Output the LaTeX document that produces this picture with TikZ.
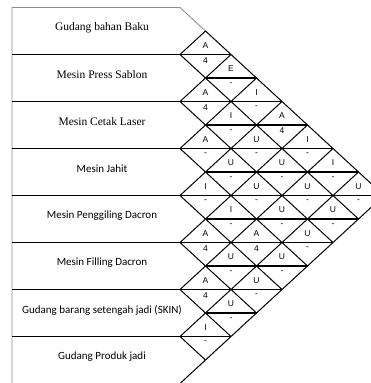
\documentclass[tikz,border=0pt]{standalone}
\usepackage{fontspec}
\setmainfont{Liberation Serif}
\newfontfamily\calibri{Carlito}
\newfontfamily\arial{Liberation Sans}
\begin{document}
\begin{tikzpicture}[x=1pt,y=-1pt,
    frameline/.style={draw=black!45, line width=0.8pt},
    rowline/.style={line width=1.6pt},
    gridline/.style={line width=1pt},
    midline/.style={line width=1.6pt},
    rel/.style={font=\arial\fontsize{8.5}{9}\selectfont, inner sep=0pt},
    deptserif/.style={font=\fontsize{11.5}{13}\selectfont, inner sep=0pt},
    deptsans/.style={font=\calibri\fontsize{11}{13}\selectfont, inner sep=0pt}]

  \useasboundingbox (0,0) rectangle (371,383);

  % left corners of the rows
  \foreach \m in {0,...,8}
    \coordinate (p\m) at (180,{7.5+47*\m});

  % outer frame
  \draw[frameline] (12,383.5) -- (12,7.5) -- (p0) -- (205.5,31);

  % row borders
  \foreach \m in {1,...,7}
    \draw[rowline] (12,{7.5+47*\m}) -- (p\m);

  % diagonal grid
  \draw[gridline] (205.5,31) -- (384,195.5);
  \foreach \m in {1,...,7}
    \draw[gridline] (p\m) -- ++({25.5*(8-\m)},{23.5*(8-\m)});
  \foreach \m in {1,...,8}
    \draw[gridline] (p\m) -- ++({25.5*\m},{-23.5*\m});

  % departments
  \begin{scope}[every node/.style={deptserif}]
    \node (d1) at (102,28)  {Gudang bahan Baku};
    \node (d2) at (102,75)  {Mesin Press Sablon};
    \node (d3) at (102,122) {Mesin Cetak Laser};
  \end{scope}
  \begin{scope}[every node/.style={deptsans}]
    \node (d4) at (102,169) {Mesin Jahit};
    \node (d5) at (102,216) {Mesin Penggiling Dacron};
    \node (d6) at (102,263) {Mesin Filling Dacron};
    \node (d7) at (102,310) {Gudang barang setengah jadi (SKIN)};
    \node (d8) at (102,357) {Gudang Produk jadi};
  \end{scope}

  % relationships: row i / row j / degree / reason
  \foreach \i/\j/\r/\n in {1/2/A/4, 2/3/A/4, 3/4/A/-, 4/5/I/-, 5/6/A/4, 6/7/A/4, 7/8/I/-,
                           1/3/E/-, 2/4/I/-, 3/5/U/-, 4/6/I/-, 5/7/U/-, 6/8/U/-,
                           1/4/I/-, 2/5/U/-, 3/6/U/-, 4/7/A/4, 5/8/U/-,
                           1/5/A/4, 2/6/U/-, 3/7/U/-, 4/8/U/-,
                           1/6/I/-, 2/7/U/-, 3/8/U/-,
                           1/7/I/-, 2/8/U/-,
                           1/8/U/-} {
    \pgfmathsetmacro\cx{180+25.5*(\j-\i)}
    \pgfmathsetmacro\cy{31+47*(\i-1)+23.5*(\j-\i)}
    \draw[midline] (\cx-25.5,\cy) -- (\cx+25.5,\cy);
    \node[rel] (r\i\j) at (\cx,\cy-9) {\r};
    \node[rel] (n\i\j) at (\cx,\cy+6) {\n};
  }

\end{tikzpicture}
\end{document}
